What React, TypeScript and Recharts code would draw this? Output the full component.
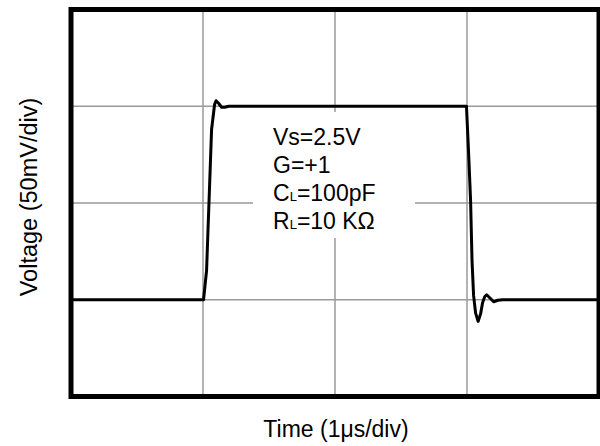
import React from 'react';
import { LineChart, Line, XAxis, YAxis, CartesianGrid, ReferenceArea, Customized } from 'recharts';

// Time in divisions (1 µs/div), voltage in divisions (50 mV/div)
const timeDiv = [
  0, 1.004, 1.027, 1.065, 1.088, 1.099, 1.118, 1.141, 1.164, 1.195,
  2.996, 3.011, 3.027, 3.038, 3.05, 3.065, 3.084, 3.103, 3.118, 3.134,
  3.149, 3.172, 3.202, 3.233, 3.271, 4,
];
const voltageDiv = [
  1, 1, 1.302, 2.76, 3.021, 3.057, 3.031, 2.99, 2.99, 3,
  3, 2.552, 2.031, 1.406, 1.042, 0.865, 0.776, 0.854, 0.969, 1.031,
  1.052, 1.021, 0.979, 0.995, 1, 1,
];
const gridTicks = [0, 1, 2, 3, 4];
const gridLines = [1, 2, 3];
const xTitle = 'Time (1μs/div)';
const yTitle = 'Voltage (50mV/div)';
const noteLines = [
  { main: 'Vs=2.5V', sub: '', rest: '' },
  { main: 'G=+1', sub: '', rest: '' },
  { main: 'C', sub: 'L', rest: '=100pF' },
  { main: 'R', sub: 'L', rest: '=10 KΩ' },
];

const data = timeDiv.map((t, i) => ({ t, v: voltageDiv[i] }));

const FONT = '"Liberation Sans", Arial, sans-serif';

const NoteLabel = (props: any) => {
  const vb = props.viewBox || { x: 253, y: 112 };
  const x0 = vb.x + 20;
  const y0 = vb.y + 33;
  return (
    <g fontFamily={FONT} fill="#000">
      {noteLines.map((l, i) => (
        <text key={i} x={x0} y={y0 + i * 28} fontSize={23}>
          {l.main}
          {l.sub ? <tspan fontSize={13}>{l.sub}</tspan> : null}
          {l.rest ? <tspan fontSize={23}>{l.rest}</tspan> : null}
        </text>
      ))}
    </g>
  );
};

const Titles = () => (
  <g fontFamily={FONT} fill="#000">
    <text x={336} y={437} fontSize={23} textAnchor="middle">{xTitle}</text>
    <text
      x={0}
      y={0}
      fontSize={23.5}
      textAnchor="middle"
      transform="translate(37,197) rotate(-90)"
    >
      {yTitle}
    </text>
  </g>
);

export default function App() {
  return (
    <div style={{ position: 'absolute', left: 0, top: 0, width: 600, height: 446, background: '#fff' }}>
      <LineChart
        width={600}
        height={446}
        data={data}
        margin={{ top: 9.5, right: 1, bottom: 49.5, left: 71 }}
      >
        <XAxis type="number" dataKey="t" domain={[0, 4]} ticks={gridTicks} hide />
        <YAxis type="number" domain={[0, 4]} ticks={gridTicks} hide />
        <CartesianGrid
          stroke="#9a9a9a"
          strokeWidth={1.5}
          horizontalValues={gridLines}
          verticalValues={gridLines}
        />
        <ReferenceArea
          x1={1.379}
          x2={2.606}
          y1={1.638}
          y2={2.94}
          fill="#fff"
          fillOpacity={1}
          stroke="none"
          ifOverflow="visible"
          label={<NoteLabel />}
        />
        <Line
          type="linear"
          dataKey="v"
          stroke="#000"
          strokeWidth={3}
          dot={false}
          strokeLinejoin="round"
          isAnimationActive={false}
        />
        <ReferenceArea
          x1={0}
          x2={4}
          y1={0}
          y2={4}
          fill="none"
          stroke="#000"
          strokeWidth={5}
          ifOverflow="visible"
        />
        <Customized component={Titles} />
      </LineChart>
    </div>
  );
}
